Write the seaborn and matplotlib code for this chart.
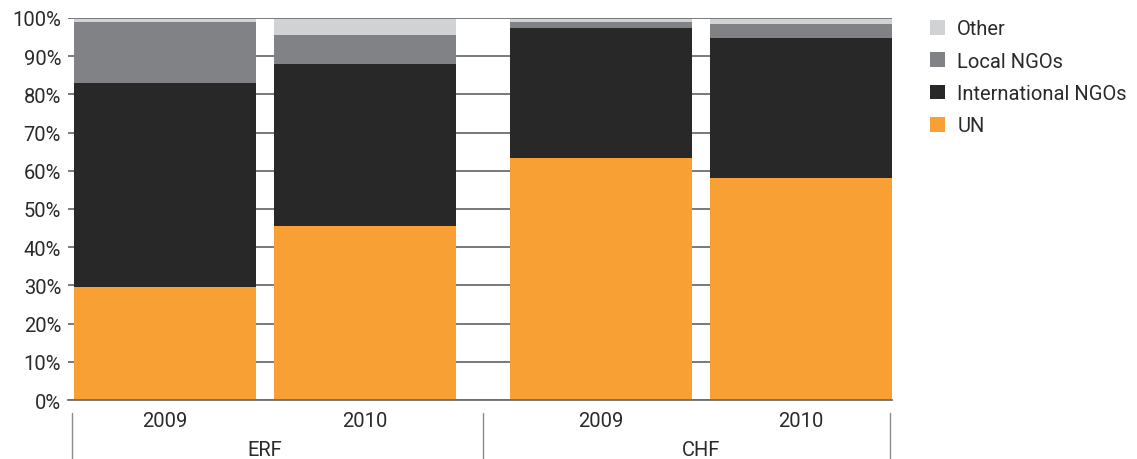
"""Stacked share of funding by recipient type, ERF vs CHF, 2009-2010."""

import matplotlib
matplotlib.use("Agg")
import matplotlib.pyplot as plt
import matplotlib.transforms as mtransforms
from matplotlib.patches import Patch
import numpy as np
import seaborn as sns

# ---- data (percent of total) ------------------------------------------
funds = ["ERF", "ERF", "CHF", "CHF"]
years = ["2009", "2010", "2009", "2010"]
un = [29.6, 45.5, 63.4, 58.1]
intl_ngos = [53.4, 42.5, 34.0, 36.7]
local_ngos = [16.0, 7.5, 1.6, 3.6]
other = [0.6, 4.1, 0.6, 1.2]

layers = ["UN", "International NGOs", "Local NGOs", "Other"]
colors = {
    "UN": "#f9a034",
    "International NGOs": "#282828",
    "Local NGOs": "#808285",
    "Other": "#d1d2d4",
}

# bar positions: small gap inside a fund, wider gap between funds
pos = np.array([0.0, 1.1, 2.4, 3.5])


def main() -> None:
    sns.set_theme(style="white")
    plt.rcParams["font.family"] = ["Roboto", "DejaVu Sans"]
    text_col = "#2a2a2a"
    fs = 14.5

    fig = plt.figure(figsize=(11.37, 4.6), dpi=100)
    ax = fig.add_axes([0.0598, 0.128, 0.7247, 0.831])

    values = {"UN": un, "International NGOs": intl_ngos,
              "Local NGOs": local_ngos, "Other": other}
    cum = np.zeros(len(pos))
    stacks = {}
    for name in layers:
        cum = cum + np.array(values[name])
        stacks[name] = cum.copy()

    # draw the tallest cumulative layer first so lower layers sit on top
    for name in reversed(layers):
        sns.barplot(x=pos, y=stacks[name], native_scale=True, width=1 / 1.1,
                    color=colors[name], saturation=1, linewidth=0,
                    ax=ax, zorder=2)

    ax.set_xlim(-0.533, 4.0)
    ax.set_ylim(0, 100)
    ax.set_yticks(np.arange(0, 101, 10))
    ax.set_yticklabels([f"{v}%" for v in range(0, 101, 10)],
                       fontsize=fs, color=text_col)
    ax.yaxis.grid(True, color="#6d6e70", linewidth=1.3, zorder=0)
    ax.set_axisbelow(True)
    for s in ["top", "right", "left"]:
        ax.spines[s].set_visible(False)
    ax.spines["bottom"].set_color("#6d6e70")
    ax.spines["bottom"].set_linewidth(1.3)
    ax.tick_params(axis="y", length=0, pad=5)

    ax.set_xticks(pos)
    ax.set_xticklabels(years, fontsize=fs, color=text_col)
    ax.tick_params(axis="x", length=0, pad=8)
    ax.set_xlabel("")
    ax.set_ylabel("")

    # fund group labels and separators under the axis
    trans = mtransforms.blended_transform_factory(ax.transData, ax.transAxes)
    for x in [-0.51, 1.75, 3.99]:
        ax.plot([x, x], [-0.034, -0.16], transform=trans, color="#8a8b8d",
                linewidth=1.0, clip_on=False)
    for name, x in [("ERF", (pos[0] + pos[1]) / 2), ("CHF", (pos[2] + pos[3]) / 2)]:
        ax.text(x, -0.13, name, transform=trans, ha="center", va="center",
                fontsize=fs, color=text_col)

    handles = [Patch(facecolor=colors[n], edgecolor="none") for n in reversed(layers)]
    fig.legend(handles, list(reversed(layers)), loc="upper left",
               bbox_to_anchor=(0.802, 0.995), frameon=False,
               handlelength=0.75, handleheight=0.75, handletextpad=0.6,
               labelspacing=0.66, prop={"size": fs}, labelcolor=text_col)

    fig.savefig("out.png", dpi=100)
    plt.close(fig)


if __name__ == "__main__":
    main()
